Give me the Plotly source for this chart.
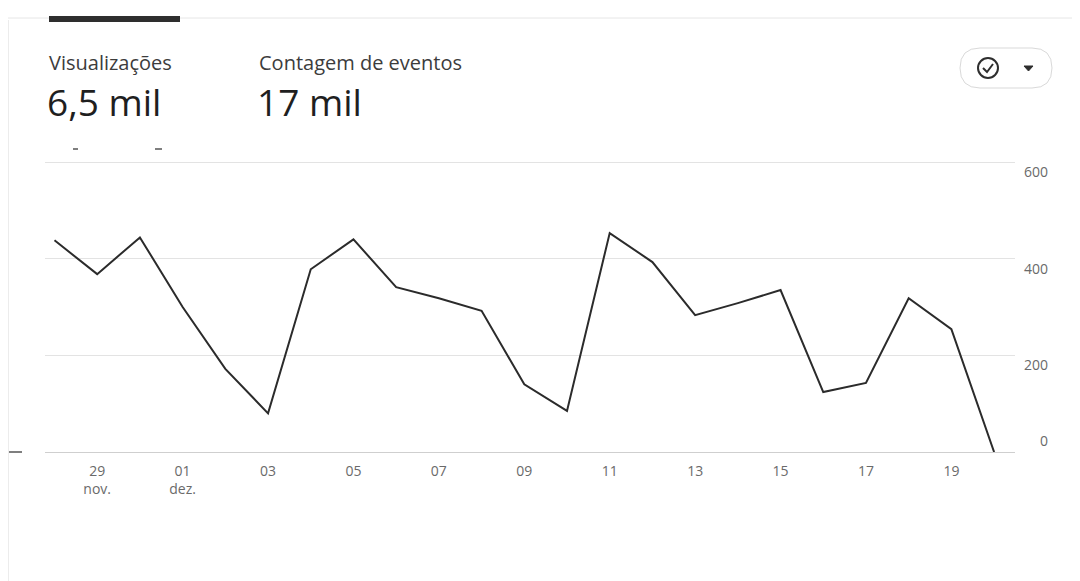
import plotly.graph_objects as go

W, H = 1080, 581
OFF = 8  # page body margin of the written html

# daily values (Visualizações), 28 nov -> 20 dez
dates = [
    "2023-11-28", "2023-11-29", "2023-11-30", "2023-12-01", "2023-12-02",
    "2023-12-03", "2023-12-04", "2023-12-05", "2023-12-06", "2023-12-07",
    "2023-12-08", "2023-12-09", "2023-12-10", "2023-12-11", "2023-12-12",
    "2023-12-13", "2023-12-14", "2023-12-15", "2023-12-16", "2023-12-17",
    "2023-12-18", "2023-12-19", "2023-12-20",
]
views = [438, 368, 444, 300, 172, 80, 378, 440, 341, 318, 292, 140, 85,
         453, 393, 283, 308, 335, 124, 143, 318, 254, 0]

tick_dates = ["2023-11-29", "2023-12-01", "2023-12-03", "2023-12-05",
              "2023-12-07", "2023-12-09", "2023-12-11", "2023-12-13",
              "2023-12-15", "2023-12-17", "2023-12-19"]
tick_text = ["29<br>nov.", "01<br>dez.", "03", "05", "07", "09", "11", "13",
             "15", "17", "19"]
y_ticks = [200, 400, 600]
y_base_tick = [0]

metric_names = ["Visualizações", "Contagem de eventos"]
metric_values = ["6,5 mil", "17 mil"]

FONT = "Open Sans"
Y_TOP = 605
PX_PER_UNIT = 290 / 600


def px(x):
    # screen pixel -> paper fraction
    return (x - OFF) / W


def py(y):
    return 1 - (y - OFF) / H


fig = go.Figure()
fig.add_trace(go.Scatter(
    x=dates, y=views, mode="lines",
    line=dict(color="#2b2b2b", width=2),
    hoverinfo="skip", showlegend=False,
))
# invisible helper so the second y axis (base "0" label) gets drawn
fig.add_trace(go.Scatter(x=dates[:1], y=[0], yaxis="y2", mode="markers",
                         marker=dict(opacity=0), hoverinfo="skip",
                         showlegend=False))

tickfont = dict(family=FONT, size=14, color="#6a6a6a")
y_domain = [py(452), py(452 - Y_TOP * PX_PER_UNIT)]

fig.update_layout(
    xaxis=dict(
        domain=[px(45), px(1015)],
        range=["2023-11-27 18:40", "2023-12-20 11:45"],
        tickvals=tick_dates, ticktext=tick_text,
        showgrid=False, showline=True, linecolor="#cfcfcf", linewidth=1,
        ticks="", ticklabelstandoff=6, automargin=False,
        tickfont=tickfont, fixedrange=True,
    ),
    yaxis=dict(
        domain=y_domain, range=[0, Y_TOP], tickvals=y_ticks,
        anchor="free", position=px(1048), side="left",
        showgrid=True, gridcolor="#e3e3e3", gridwidth=1,
        zeroline=False, showline=False, ticks="",
        ticklabelshift=10, automargin=False,
        tickfont=tickfont, fixedrange=True,
    ),
    yaxis2=dict(
        overlaying="y", range=[0, Y_TOP], tickvals=y_base_tick,
        anchor="free", position=px(1048), side="left",
        showgrid=False, zeroline=False, showline=False, ticks="",
        ticklabelshift=-11, automargin=False,
        tickfont=tickfont, fixedrange=True,
    ),
)

# header texts
for name, val, x0 in zip(metric_names, metric_values, [47, 257]):
    fig.add_annotation(x=px(x0), y=py(62), xref="paper", yref="paper",
                       text=name, showarrow=False, xanchor="left",
                       yanchor="middle",
                       font=dict(family=FONT, size=20, color="#3c3c3c"))
    fig.add_annotation(x=px(x0 - 2), y=py(101), xref="paper", yref="paper",
                       text=val, showarrow=False, xanchor="left",
                       yanchor="middle",
                       font=dict(family=FONT, size=37, color="#1f1f1f"))

shapes = []
# tab underline + active indicator
shapes.append(dict(type="line", xref="paper", yref="paper",
                   x0=px(0), x1=px(1088), y0=py(18), y1=py(18),
                   line=dict(color="#e6e6e6", width=1)))
shapes.append(dict(type="rect", xref="paper", yref="paper",
                   x0=px(49), x1=px(180), y0=py(22), y1=py(16),
                   fillcolor="#2e2e2e", line=dict(width=0)))
# left card border
shapes.append(dict(type="line", xref="paper", yref="paper",
                   x0=px(8.5), x1=px(8.5), y0=py(20), y1=py(589),
                   line=dict(color="#ececec", width=1)))
# short dark dash at axis start
shapes.append(dict(type="line", xref="paper", yref="paper",
                   x0=px(9), x1=px(22), y0=py(452), y1=py(452),
                   line=dict(color="#555555", width=1.5)))
# placeholder dashes under the metrics
for a, b in [(73, 78), (155, 162)]:
    shapes.append(dict(type="line", xref="paper", yref="paper",
                       x0=px(a), x1=px(b), y0=py(149), y1=py(149),
                       line=dict(color="#555555", width=1.5)))

# pill button with check icon and dropdown arrow
l, r, t, b, rad = 960, 1052, 48, 88, 20
pill = (f"M {px(l + rad)},{py(t)} L {px(r - rad)},{py(t)} "
        f"Q {px(r)},{py(t)} {px(r)},{py((t + b) / 2)} "
        f"Q {px(r)},{py(b)} {px(r - rad)},{py(b)} "
        f"L {px(l + rad)},{py(b)} "
        f"Q {px(l)},{py(b)} {px(l)},{py((t + b) / 2)} "
        f"Q {px(l)},{py(t)} {px(l + rad)},{py(t)} Z")
shapes.append(dict(type="path", xref="paper", yref="paper", path=pill,
                   line=dict(color="#d9d9d9", width=1)))
shapes.append(dict(type="circle", xref="paper", yref="paper",
                   x0=px(978), x1=px(998), y0=py(78), y1=py(58),
                   line=dict(color="#2e2e2e", width=2)))
check = (f"M {px(983)},{py(68)} L {px(987)},{py(72)} L {px(993)},{py(64)}")
shapes.append(dict(type="path", xref="paper", yref="paper", path=check,
                   line=dict(color="#2e2e2e", width=2)))
tri = (f"M {px(1024)},{py(66)} L {px(1033)},{py(66)} "
       f"L {px(1028.5)},{py(71)} Z")
shapes.append(dict(type="path", xref="paper", yref="paper", path=tri,
                   fillcolor="#2e2e2e", line=dict(color="#2e2e2e", width=1)))

fig.update_layout(
    width=W, height=H,
    margin=dict(l=0, r=0, t=0, b=0, autoexpand=False),
    paper_bgcolor="white", plot_bgcolor="white",
    shapes=shapes, showlegend=False,
    font=dict(family=FONT),
)

fig.write_html("out.html")
